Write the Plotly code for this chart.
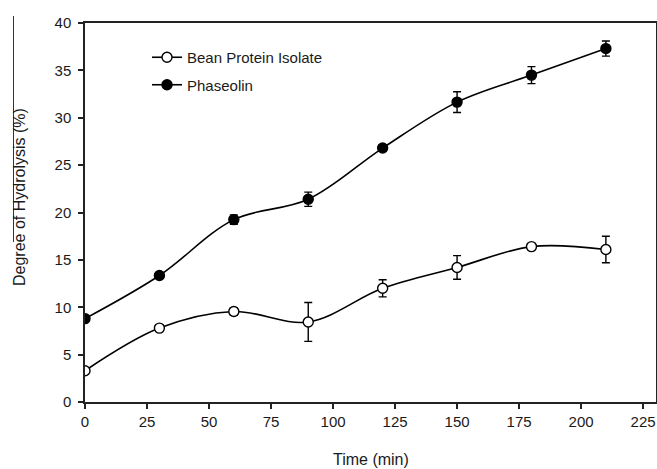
import plotly.graph_objects as go

time_min = [0, 30, 60, 90, 120, 150, 180, 210]
bpi_dh = [3.3, 7.8, 9.55, 8.45, 12.0, 14.2, 16.4, 16.1]
bpi_err = [0.2, 0.3, 0.4, 2.05, 0.9, 1.25, 0.3, 1.4]
phas_dh = [8.8, 13.35, 19.25, 21.4, 26.8, 31.65, 34.5, 37.3]
phas_err = [0.2, 0.3, 0.5, 0.75, 0.35, 1.1, 0.9, 0.8]

x_ticks = [0, 25, 50, 75, 100, 125, 150, 175, 200, 225]
y_ticks = [0, 5, 10, 15, 20, 25, 30, 35, 40]
x_title = "Time (min)"
y_title = "Degree of Hydrolysis (%)"

FONT = "Arial, Liberation Sans, sans-serif"
INK = "#1a1a1a"

fig = go.Figure()
fig.add_trace(go.Scatter(
    x=time_min, y=bpi_dh, name="Bean Protein Isolate", mode="lines+markers",
    legendgroup="a",
    line=dict(color="black", width=1.6, shape="spline", smoothing=1),
    marker=dict(symbol="circle", size=10, color="white", line=dict(color="black", width=1.4)),
    error_y=dict(type="data", array=bpi_err, visible=True, color="black", thickness=1.4, width=4),
))
fig.add_trace(go.Scatter(
    x=time_min, y=phas_dh, name="Phaseolin", mode="lines+markers",
    legendgroup="b",
    line=dict(color="black", width=1.6, shape="spline", smoothing=1),
    marker=dict(symbol="circle", size=10, color="black", line=dict(color="black", width=1.4)),
    error_y=dict(type="data", array=phas_err, visible=True, color="black", thickness=1.4, width=4),
))

fig.add_shape(type="line", xref="paper", yref="paper",
              x0=-0.1252, x1=-0.1252, y0=1.0185, y1=0.422,
              line=dict(color="#333", width=1))

fig.add_annotation(text=y_title, xref="paper", yref="paper", x=-0.1138, y=0.541,
                   xanchor="center", yanchor="middle", textangle=-90, showarrow=False,
                   font=dict(size=16, family=FONT, color=INK))
fig.add_annotation(text=x_title, xref="paper", yref="paper", x=0.5009, y=-0.153,
                   xanchor="center", yanchor="middle", showarrow=False,
                   font=dict(size=16, family=FONT, color=INK))

fig.update_layout(
    width=657, height=469,
    margin=dict(l=85, r=1, t=23, b=67, autoexpand=False),
    paper_bgcolor="white", plot_bgcolor="white",
    font=dict(family=FONT, size=15, color=INK),
    showlegend=True,
    legend=dict(x=0.1086, y=0.9525, xanchor="left", yanchor="top",
                bgcolor="rgba(0,0,0,0)", font=dict(size=15, family=FONT, color=INK),
                itemwidth=30, traceorder="grouped", tracegroupgap=5),
    xaxis=dict(
        range=[0, 230.2], tickvals=x_ticks, ticktext=[str(v) for v in x_ticks],
        showgrid=False, zeroline=False, showline=True, linecolor="#222", linewidth=1.5,
        mirror=True, ticks="outside", ticklen=5, tickwidth=1.5, tickcolor="#222",
        tickfont=dict(size=15, family=FONT, color=INK),
    ),
    yaxis=dict(
        range=[0, 40], tickvals=y_ticks, ticktext=[str(v) for v in y_ticks],
        showgrid=False, zeroline=False, showline=True, linecolor="#222", linewidth=1.5,
        mirror=True, ticks="outside", ticklen=5, tickwidth=1.5, tickcolor="#222",
        tickfont=dict(size=15, family=FONT, color=INK), ticklabelstandoff=4,
    ),
)

fig.write_html("out.html", config={"displayModeBar": False},
               post_script="document.body.style.margin='0';document.body.style.padding='0';")
